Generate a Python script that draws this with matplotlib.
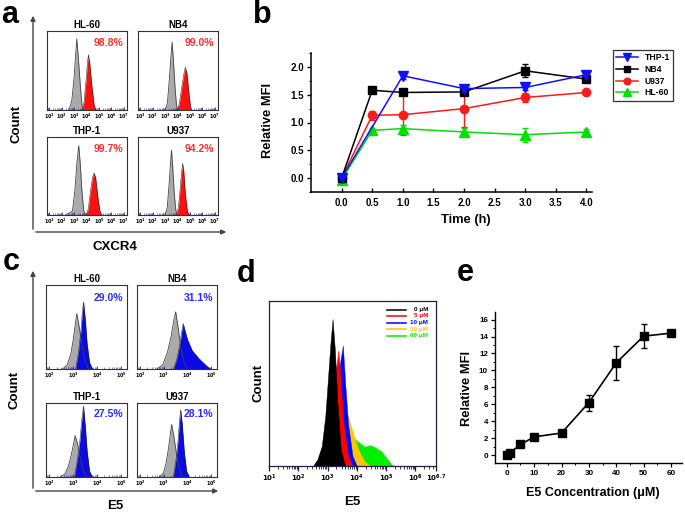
import numpy as np
import matplotlib
matplotlib.use('Agg')
import matplotlib.pyplot as plt
from matplotlib.lines import Line2D
from matplotlib.patches import FancyArrowPatch

plt.rcParams['font.family'] = ['Liberation Sans', 'DejaVu Sans']
plt.rcParams['font.weight'] = 'bold'
plt.rcParams['mathtext.default'] = 'bf'

# ---------------- data ----------------
cell_lines = ["HL-60", "NB4", "THP-1", "U937"]
a_percent = ["98.8%", "99.0%", "99.7%", "94.2%"]
c_percent = ["29.0%", "31.1%", "27.5%", "28.1%"]

# panel a: CXCR4 histograms (x = log10 fluorescence, y = relative count)
a_hl60_ctrl_x = [2.58, 2.80, 2.98, 3.10, 3.20, 3.32, 3.48, 3.62, 3.72]
a_hl60_ctrl_y = [0, 0.12, 0.40, 0.68, 0.90, 0.68, 0.32, 0.06, 0]
a_hl60_st_x = [3.60, 3.78, 3.94, 4.05, 4.14, 4.25, 4.42, 4.60, 4.75]
a_hl60_st_y = [0, 0.10, 0.36, 0.58, 0.70, 0.58, 0.30, 0.06, 0]
a_nb4_ctrl_x = [3.02, 3.18, 3.33, 3.45, 3.55, 3.65, 3.78, 3.90, 4.02]
a_nb4_ctrl_y = [0, 0.10, 0.40, 0.66, 0.86, 0.64, 0.30, 0.06, 0]
a_nb4_st_x = [3.95, 4.13, 4.32, 4.50, 4.62, 4.75, 4.90, 5.02, 5.12]
a_nb4_st_y = [0, 0.08, 0.28, 0.46, 0.54, 0.46, 0.22, 0.05, 0]
a_thp1_ctrl_x = [2.30, 2.85, 3.05, 3.22, 3.36, 3.48, 3.62, 3.76, 3.88]
a_thp1_ctrl_y = [0, 0.05, 0.32, 0.68, 0.89, 0.66, 0.30, 0.06, 0]
a_thp1_st_x = [3.95, 4.13, 4.30, 4.47, 4.59, 4.72, 4.88, 5.05, 5.20]
a_thp1_st_y = [0, 0.08, 0.30, 0.48, 0.54, 0.48, 0.25, 0.06, 0]
a_u937_ctrl_x = [3.00, 3.16, 3.30, 3.42, 3.50, 3.59, 3.72, 3.85, 3.96]
a_u937_ctrl_y = [0, 0.10, 0.38, 0.66, 0.83, 0.64, 0.28, 0.06, 0]
a_u937_st_x = [3.90, 4.06, 4.20, 4.32, 4.40, 4.49, 4.62, 4.78, 4.92]
a_u937_st_y = [0, 0.10, 0.34, 0.56, 0.66, 0.56, 0.26, 0.05, 0]

# panel c: E5 histograms
c_hl60_ctrl_x = [2.55, 2.75, 2.90, 3.00, 3.08, 3.15, 3.25, 3.38, 3.50, 3.65]
c_hl60_ctrl_y = [0, 0.05, 0.18, 0.35, 0.52, 0.66, 0.50, 0.25, 0.08, 0]
c_hl60_st_x = [3.10, 3.22, 3.32, 3.38, 3.43, 3.50, 3.58, 3.68, 3.80]
c_hl60_st_y = [0, 0.20, 0.45, 0.68, 0.80, 0.60, 0.30, 0.08, 0]
c_nb4_ctrl_x = [2.70, 2.95, 3.15, 3.30, 3.42, 3.50, 3.60, 3.72, 3.85, 4.00]
c_nb4_ctrl_y = [0, 0.05, 0.20, 0.38, 0.58, 0.68, 0.50, 0.25, 0.08, 0]
c_nb4_st_x = [3.40, 3.55, 3.68, 3.76, 3.82, 3.90, 4.00, 4.20, 4.50, 4.80, 4.98]
c_nb4_st_y = [0, 0.12, 0.30, 0.46, 0.54, 0.45, 0.35, 0.22, 0.12, 0.04, 0]
c_thp1_ctrl_x = [2.45, 2.65, 2.80, 2.92, 3.02, 3.08, 3.18, 3.30, 3.42, 3.55]
c_thp1_ctrl_y = [0, 0.04, 0.15, 0.30, 0.46, 0.56, 0.45, 0.25, 0.08, 0]
c_thp1_st_x = [3.05, 3.18, 3.28, 3.36, 3.43, 3.50, 3.58, 3.68, 3.80]
c_thp1_st_y = [0, 0.25, 0.50, 0.78, 0.96, 0.70, 0.35, 0.08, 0]
c_u937_ctrl_x = [2.80, 2.98, 3.10, 3.20, 3.28, 3.33, 3.42, 3.55, 3.68, 3.80]
c_u937_ctrl_y = [0, 0.05, 0.20, 0.40, 0.60, 0.71, 0.55, 0.28, 0.08, 0]
c_u937_st_x = [3.40, 3.52, 3.60, 3.66, 3.71, 3.78, 3.86, 3.96, 4.08]
c_u937_st_y = [0, 0.25, 0.50, 0.75, 0.91, 0.70, 0.35, 0.08, 0]

# panel b: relative MFI vs time
time_h = [0, 0.5, 1, 2, 3, 4]
thp1_time = [0, 1, 2, 3, 4]
thp1_mfi = [0.0, 1.84, 1.61, 1.63, 1.86]
thp1_err = [0.03, 0.05, 0.04, 0.04, 0.05]
nb4_mfi = [0.0, 1.58, 1.54, 1.55, 1.93, 1.78]
nb4_err = [0.02, 0.03, 0.04, 0.04, 0.12, 0.04]
u937_mfi = [0.0, 1.13, 1.14, 1.25, 1.45, 1.54]
u937_err = [0.02, 0.08, 0.36, 0.33, 0.08, 0.03]
hl60_mfi = [-0.03, 0.86, 0.89, 0.83, 0.78, 0.83]
hl60_err = [0.02, 0.04, 0.06, 0.07, 0.13, 0.05]

# panel d: E5 dose histograms
d_labels = ["0 \u03bcM", "5 \u03bcM", "10 \u03bcM", "30 \u03bcM", "60 \u03bcM"]
d_0_x = [2.50, 2.65, 2.80, 2.92, 3.02, 3.10, 3.17, 3.25, 3.33, 3.45, 3.60]
d_0_y = [0, 0.04, 0.12, 0.30, 0.55, 0.75, 0.89, 0.70, 0.40, 0.10, 0]
d_5_x = [2.70, 2.90, 3.05, 3.18, 3.28, 3.37, 3.45, 3.55, 3.70, 3.85]
d_5_y = [0, 0.05, 0.20, 0.40, 0.58, 0.70, 0.50, 0.25, 0.06, 0]
d_10_x = [2.85, 3.05, 3.20, 3.32, 3.42, 3.52, 3.60, 3.70, 3.85, 4.00]
d_10_y = [0, 0.05, 0.20, 0.42, 0.62, 0.73, 0.50, 0.25, 0.06, 0]
d_30_x = [3.10, 3.30, 3.45, 3.58, 3.69, 3.80, 3.92, 4.05, 4.25, 4.45]
d_30_y = [0, 0.06, 0.15, 0.25, 0.31, 0.24, 0.17, 0.10, 0.03, 0]
d_60_x = [3.00, 3.20, 3.40, 3.58, 3.81, 4.04, 4.27, 4.45, 4.62, 4.85, 5.02, 5.20, 5.35]
d_60_y = [0, 0.03, 0.15, 0.23, 0.18, 0.147, 0.117, 0.127, 0.113, 0.087, 0.046, 0.006, 0]

# panel e: relative MFI vs E5 concentration
e5_conc = [0, 1, 5, 10, 20, 30, 40, 50, 60]
e5_mfi = [0.0, 0.2, 1.25, 2.15, 2.6, 6.2, 10.9, 14.05, 14.4]
e5_err = [0.1, 0.1, 0.2, 0.2, 0.35, 0.95, 2.0, 1.4, 0.2]

# ---------------- figure ----------------
W, H = 685, 515
fig = plt.figure(figsize=(W / 100, H / 100), dpi=100)


def ax_px(l, t, r, b):
    return fig.add_axes([l / W, 1 - b / H, (r - l) / W, (b - t) / H])


def ftext(x, y, s, **kw):
    kw.setdefault('fontweight', 'bold')
    kw.setdefault('ha', 'center')
    kw.setdefault('va', 'center')
    fig.text(x / W, 1 - y / H, s, **kw)


def farrow(x0, y0, x1, y1):
    fig.add_artist(FancyArrowPatch((x0 / W, 1 - y0 / H), (x1 / W, 1 - y1 / H),
                                   transform=fig.transFigure, arrowstyle='-|>',
                                   mutation_scale=7, lw=1.0, color='#444444'))


def log_minor(lo, hi):
    out = []
    for k in range(int(np.floor(lo)), int(np.ceil(hi)) + 1):
        for m in range(2, 10):
            v = k + np.log10(m)
            if lo <= v <= hi:
                out.append(v)
    return out


def small_hist(box, xlim, major, ctrl_x, ctrl_y, st_x, st_y, st_color, title, pct, pct_color):
    ax = ax_px(*box)
    ax.fill_between(ctrl_x, ctrl_y, 0, color='#aaaaaa', lw=0, zorder=1)
    ax.fill_between(st_x, st_y, 0, color=st_color, lw=0, zorder=2)
    ax.plot(st_x, st_y, color='#1a1a1a', lw=0.35, zorder=3)
    ax.plot(ctrl_x, ctrl_y, color='#444444', lw=0.6, zorder=4)
    ax.set_xlim(xlim)
    ax.set_ylim(0, 1.0)
    ax.set_yticks([])
    ax.set_xticks(major)
    ax.set_xticklabels(['$10^{%d}$' % m for m in major], fontsize=3.5)
    ax.set_xticks(log_minor(*xlim), minor=True)
    ax.tick_params(axis='x', which='both', direction='in', color='#2b2b8f', pad=1.5)
    ax.tick_params(axis='x', which='major', length=2.2, width=0.6)
    ax.tick_params(axis='x', which='minor', length=1.3, width=0.4)
    for s in ax.spines.values():
        s.set_linewidth(0.8)
        s.set_color('#333333')
    ax.set_title(title, fontsize=7, fontweight='bold', pad=2.5)
    ax.text(0.95, 0.85, pct, transform=ax.transAxes, ha='right', va='center',
            fontsize=7.5, fontweight='bold', color=pct_color)
    return ax


# ----- panel a -----
a_boxes = [(47, 31, 127, 110), (138, 31, 218, 110), (47, 137, 127, 215), (138, 137, 218, 215)]
a_data = [(a_hl60_ctrl_x, a_hl60_ctrl_y, a_hl60_st_x, a_hl60_st_y),
          (a_nb4_ctrl_x, a_nb4_ctrl_y, a_nb4_st_x, a_nb4_st_y),
          (a_thp1_ctrl_x, a_thp1_ctrl_y, a_thp1_st_x, a_thp1_st_y),
          (a_u937_ctrl_x, a_u937_ctrl_y, a_u937_st_x, a_u937_st_y)]
for box, dat, name, pct in zip(a_boxes, a_data, cell_lines, a_percent):
    small_hist(box, (0.8, 7.25), [1, 2, 3, 4, 5, 6, 7], *dat, '#ff1010', name, pct, '#ff3030')
farrow(33, 232, 33, 13)
farrow(33, 232, 229, 232)
ftext(10, 15, 'a', fontsize=22)
ftext(17, 124, 'Count', fontsize=9.5, rotation=90)
ftext(115, 247, 'CXCR4', fontsize=9.5)

# ----- panel c -----
c_boxes = [(46, 285, 127, 369), (137, 285, 217, 369), (46, 403, 127, 477), (137, 403, 217, 477)]
c_data = [(c_hl60_ctrl_x, c_hl60_ctrl_y, c_hl60_st_x, c_hl60_st_y),
          (c_nb4_ctrl_x, c_nb4_ctrl_y, c_nb4_st_x, c_nb4_st_y),
          (c_thp1_ctrl_x, c_thp1_ctrl_y, c_thp1_st_x, c_thp1_st_y),
          (c_u937_ctrl_x, c_u937_ctrl_y, c_u937_st_x, c_u937_st_y)]
for box, dat, name, pct in zip(c_boxes, c_data, cell_lines, c_percent):
    small_hist(box, (1.86, 5.25), [2, 3, 4, 5], *dat, '#0a0ae6', name, pct, '#2a2aff')
farrow(33, 491, 33, 268)
farrow(33, 491, 221, 491)
ftext(11, 262, 'c', fontsize=22)
ftext(15, 390, 'Count', fontsize=9.5, rotation=90)
ftext(115, 506, 'E5', fontsize=9.5)

# ----- panel b -----
axb = ax_px(311, 53, 592, 192)
series_b = [
    (time_h, hl60_mfi, hl60_err, '#00e000', '^', 6.5, 'HL-60'),
    (time_h, u937_mfi, u937_err, '#ff1a1a', 'o', 6.0, 'U937'),
    (time_h, nb4_mfi, nb4_err, '#000000', 's', 5.3, 'NB4'),
    (thp1_time, thp1_mfi, thp1_err, '#1010ff', 'v', 6.5, 'THP-1'),
]
handles = {}
for xs, ys, es, col, mk, ms, lab in series_b:
    axb.errorbar(xs, ys, yerr=es, color=col, marker=mk, ms=ms, lw=1.1,
                 elinewidth=1.0, capsize=2, capthick=1.0, mec=col, mfc=col)
    handles[lab] = Line2D([0], [0], color=col, marker=mk, ms=ms * 0.8, lw=1.1, label=lab)
axb.set_xlim(-0.5, 4.09)
axb.set_ylim(-0.25, 2.25)
axb.set_xticks([0, 0.5, 1, 1.5, 2, 2.5, 3, 3.5, 4])
axb.set_xticklabels(['0.0', '0.5', '1.0', '1.5', '2.0', '2.5', '3.0', '3.5', '4.0'])
axb.set_yticks([0, 0.5, 1.0, 1.5, 2.0])
axb.set_yticklabels(['0.0', '0.5', '1.0', '1.5', '2.0'])
axb.set_yticks([-0.25, 0.25, 0.75, 1.25, 1.75, 2.25], minor=True)
axb.tick_params(axis='x', which='major', direction='in', length=3, width=1, labelsize=7, pad=4)
axb.tick_params(axis='y', which='major', direction='out', length=3, width=1, labelsize=7, pad=2)
axb.tick_params(axis='y', which='minor', direction='out', length=1.8, width=0.8)
for lbl in axb.get_xticklabels() + axb.get_yticklabels():
    lbl.set_fontweight('bold')
axb.spines['top'].set_visible(False)
axb.spines['right'].set_visible(False)
axb.spines['left'].set_linewidth(1.1)
axb.spines['bottom'].set_linewidth(1.1)
leg = axb.legend(handles=[handles[k] for k in ['THP-1', 'NB4', 'U937', 'HL-60']],
                 loc='upper left', bbox_to_anchor=(613 / W, 1 - 50 / H),
                 bbox_transform=fig.transFigure, fontsize=6.2, frameon=True,
                 fancybox=False, edgecolor='black', borderpad=0.4, handlelength=2.55,
                 labelspacing=0.3, handletextpad=0.7, borderaxespad=0)
leg.get_frame().set_linewidth(0.9)
for t in leg.get_texts():
    t.set_fontweight('bold')
ftext(262, 15, 'b', fontsize=22)
ftext(268, 120, 'Relative MFI', fontsize=9.3, rotation=90)
ftext(466, 220, 'Time (h)', fontsize=9.3)

# ----- panel d -----
axd = ax_px(269, 301, 436, 466)
d_series = [(d_60_x, d_60_y, '#00ee00'), (d_30_x, d_30_y, '#ffc400'),
            (d_10_x, d_10_y, '#0000ff'), (d_5_x, d_5_y, '#ff0000'),
            (d_0_x, d_0_y, '#000000')]
for xs, ys, col in d_series:
    axd.fill_between(xs, ys, 0, color=col, lw=0.3, edgecolor=col)
axd.set_xlim(1, 6.7)
axd.set_ylim(0, 1.0)
axd.set_yticks([])
d_major = [1, 2, 3, 4, 5, 6, 6.7]
axd.set_xticks(d_major)
axd.set_xticklabels(['$10^{1}$', '$10^{2}$', '$10^{3}$', '$10^{4}$', '$10^{5}$', '$10^{6}$', '$10^{6.7}$'],
                    fontsize=5)
axd.set_xticks(log_minor(1, 6.7), minor=True)
axd.tick_params(axis='x', which='major', direction='out', length=3.5, width=0.9, pad=1.5, color='#1a1a3a')
axd.tick_params(axis='x', which='minor', direction='out', length=2, width=0.6, color='#1a1a3a')
for s in axd.spines.values():
    s.set_linewidth(0.9)
    s.set_color('#1e1e46')
d_leg_colors = ['#000000', '#ff0000', '#0000ff', '#ffc400', '#00ee00']
d_leg_y = [309.5, 316, 322.5, 329, 335.5]
for lab, col, yy in zip(d_labels, d_leg_colors, d_leg_y):
    fig.add_artist(Line2D([387 / W, 406 / W], [1 - yy / H, 1 - yy / H], color=col, lw=1.1))
    ftext(428, yy, lab, fontsize=4.5, color=col, ha='right')
ftext(246, 274, 'd', fontsize=22)
ftext(258, 383, 'Count', fontsize=9.5, rotation=90)
ftext(352, 502, 'E5', fontsize=9.5)

# ----- panel e -----
axe = ax_px(495, 312, 682, 463)
axe.errorbar(e5_conc, e5_mfi, yerr=e5_err, color='black', marker='s', ms=5.3, lw=1.2,
             elinewidth=1.0, capsize=2, capthick=1.0)
axe.set_xlim(-4.3, 64)
axe.set_ylim(-0.94, 16.9)
axe.set_xticks([0, 10, 20, 30, 40, 50, 60])
axe.set_xticks([5, 15, 25, 35, 45, 55], minor=True)
axe.set_yticks([0, 2, 4, 6, 8, 10, 12, 14, 16])
axe.set_yticks([1, 3, 5, 7, 9, 11, 13, 15], minor=True)
axe.tick_params(which='major', direction='out', length=3, width=0.9, labelsize=5.8, pad=2)
axe.tick_params(which='minor', direction='out', length=1.7, width=0.7)
for lbl in axe.get_xticklabels() + axe.get_yticklabels():
    lbl.set_fontweight('bold')
axe.spines['top'].set_visible(False)
axe.spines['right'].set_visible(False)
axe.spines['left'].set_linewidth(1.0)
axe.spines['bottom'].set_linewidth(1.0)
ftext(465, 273, 'e', fontsize=22)
ftext(467, 388, 'Relative MFI', fontsize=9.3, rotation=90)
ftext(593, 493, 'E5 Concentration (\u03bcM)', fontsize=9.0)

fig.savefig('out.png', dpi=100)
